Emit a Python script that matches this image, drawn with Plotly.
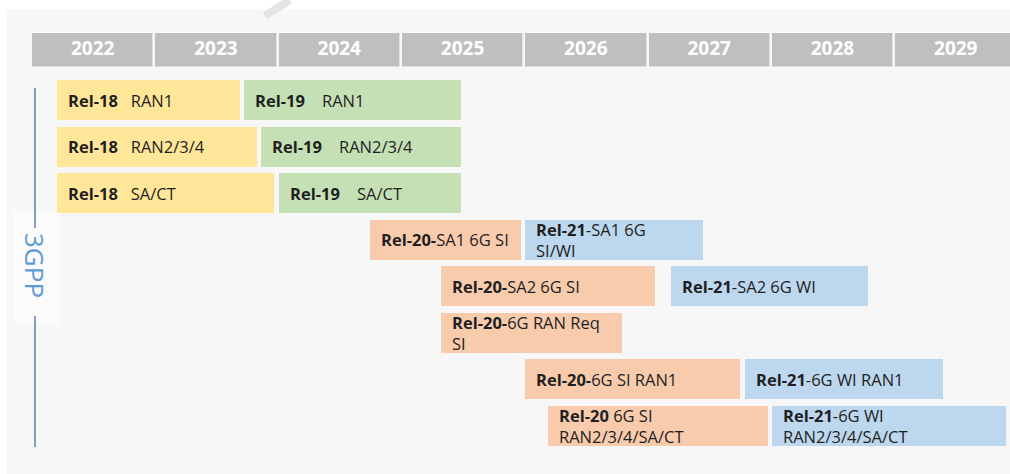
import plotly.graph_objects as go

W, H = 1010, 474

# ---- data ----
years = [2022, 2023, 2024, 2025, 2026, 2027, 2028, 2029]

rel_names = ["Rel-18", "Rel-19", "Rel-18", "Rel-19", "Rel-18", "Rel-19",
             "Rel-20-", "Rel-21", "Rel-20-", "Rel-21", "Rel-20-",
             "Rel-20-", "Rel-21", "Rel-20", "Rel-21"]
rel_desc = ["\u00a0\u00a0 RAN1", "\u00a0\u00a0\u00a0 RAN1", "\u00a0\u00a0 RAN2/3/4", "\u00a0\u00a0\u00a0 RAN2/3/4",
            "\u00a0\u00a0 SA/CT", "\u00a0\u00a0\u00a0 SA/CT",
            "SA1 6G SI", "-SA1 6G<br>SI/WI", "SA2 6G SI", "-SA2 6G WI", "6G RAN Req<br>SI",
            "6G SI RAN1", "-6G WI RAN1", " 6G SI<br>RAN2/3/4/SA/CT", "-6G WI<br>RAN2/3/4/SA/CT"]
rows = [0, 0, 1, 1, 2, 2, 3, 3, 4, 4, 5, 6, 6, 7, 7]
starts = [2022.21, 2023.73, 2022.21, 2023.865, 2022.21, 2024.01,
          2024.75, 2026.01, 2025.325, 2027.19, 2025.325,
          2026.01, 2027.79, 2026.19, 2028.01]
ends = [2023.695, 2025.487, 2023.833, 2025.487, 2023.97, 2025.487,
        2025.974, 2027.45, 2027.06, 2028.79, 2026.79,
        2027.75, 2029.40, 2027.977, 2029.91]
groups = ["R18", "R19", "R18", "R19", "R18", "R19",
          "R20", "R21", "R20", "R21", "R20", "R20", "R21", "R20", "R21"]

colors = {"R18": "#ffe699", "R19": "#c5e0b4", "R20": "#f8cbad", "R21": "#bdd7ee"}
side_label = "3GPP"

# ---- geometry helpers (axis ranges only) ----
px_per_year = 123.3
x_left_px = 31
x0 = years[0] - x_left_px / px_per_year
x1 = x0 + W / px_per_year
row_px = 46.5
row0_px = 100
y_top = -row0_px / row_px
y_bot = (H - row0_px) / row_px
header_row = (50 - row0_px) / row_px

fig = go.Figure()

# header year cells
fig.add_trace(go.Bar(
    y=[header_row] * len(years), x=[1] * len(years), base=years,
    orientation="h", width=36 / row_px,
    marker=dict(color="#bfbfbf", line=dict(color="#f7f7f7", width=2.4)),
    hoverinfo="skip", showlegend=False))
fig.add_trace(go.Scatter(
    x=[y + 0.5 for y in years], y=[header_row] * len(years), mode="text",
    text=[str(y) for y in years],
    textfont=dict(family="Open Sans", size=19, color="white", weight="bold"),
    hoverinfo="skip", showlegend=False))

# release bars
for g in ["R18", "R19", "R20", "R21"]:
    idx = [i for i in range(len(rows)) if groups[i] == g]
    fig.add_trace(go.Bar(
        y=[rows[i] for i in idx],
        x=[ends[i] - starts[i] for i in idx],
        base=[starts[i] for i in idx],
        orientation="h", width=40 / row_px,
        marker=dict(color=colors[g], line=dict(width=0)),
        hoverinfo="skip", showlegend=False))

annotations = []
for i in range(len(rows)):
    annotations.append(dict(
        x=starts[i], y=rows[i], xref="x", yref="y",
        text=f"<b>{rel_names[i]}</b>{rel_desc[i]}",
        showarrow=False, xanchor="left", yanchor="middle", align="left",
        xshift=9,
        font=dict(family="Open Sans", size=16.5, color="#1f1f1f")))

annotations.append(dict(
    x=35 / W, y=1 - 265 / H, xref="paper", yref="paper",
    xanchor="center", yanchor="middle",
    text=side_label, textangle=90, showarrow=False,
    font=dict(family="Open Sans", size=26, color="#5b9bd5")))

shapes = [
    dict(type="rect", xref="paper", yref="paper", x0=7 / W, x1=1, y0=0, y1=1 - 9 / H,
         fillcolor="#f7f7f7", line=dict(width=0), layer="below"),
    dict(type="rect", xref="paper", yref="paper", x0=14 / W, x1=60 / W,
         y0=1 - 325 / H, y1=1 - 210 / H,
         fillcolor="#fbfbfb", line=dict(width=0), layer="below"),
    dict(type="line", xref="paper", yref="paper", x0=265 / W, x1=290 / W,
         y0=1 - 16 / H, y1=1, line=dict(color="#e4e4e4", width=8), layer="below"),
    dict(type="line", xref="paper", yref="paper", x0=35 / W, x1=35 / W,
         y0=1 - 228 / H, y1=1 - 88 / H, line=dict(color="#5b7fb8", width=1.5)),
    dict(type="line", xref="paper", yref="paper", x0=35 / W, x1=35 / W,
         y0=1 - 447 / H, y1=1 - 316 / H, line=dict(color="#5b7fb8", width=1.5)),
]

fig.update_layout(
    width=W, height=H, margin=dict(l=0, r=0, t=0, b=0),
    paper_bgcolor="white", plot_bgcolor="rgba(0,0,0,0)",
    barmode="overlay", bargap=0,
    xaxis=dict(range=[x0, x1], visible=False, fixedrange=True),
    yaxis=dict(range=[y_bot, y_top], visible=False, fixedrange=True),
    annotations=annotations, shapes=shapes, showlegend=False)

fig.write_html("out.html", config={"displayModeBar": False},
               post_script="document.body.style.margin='0';document.body.style.overflow='hidden';")
